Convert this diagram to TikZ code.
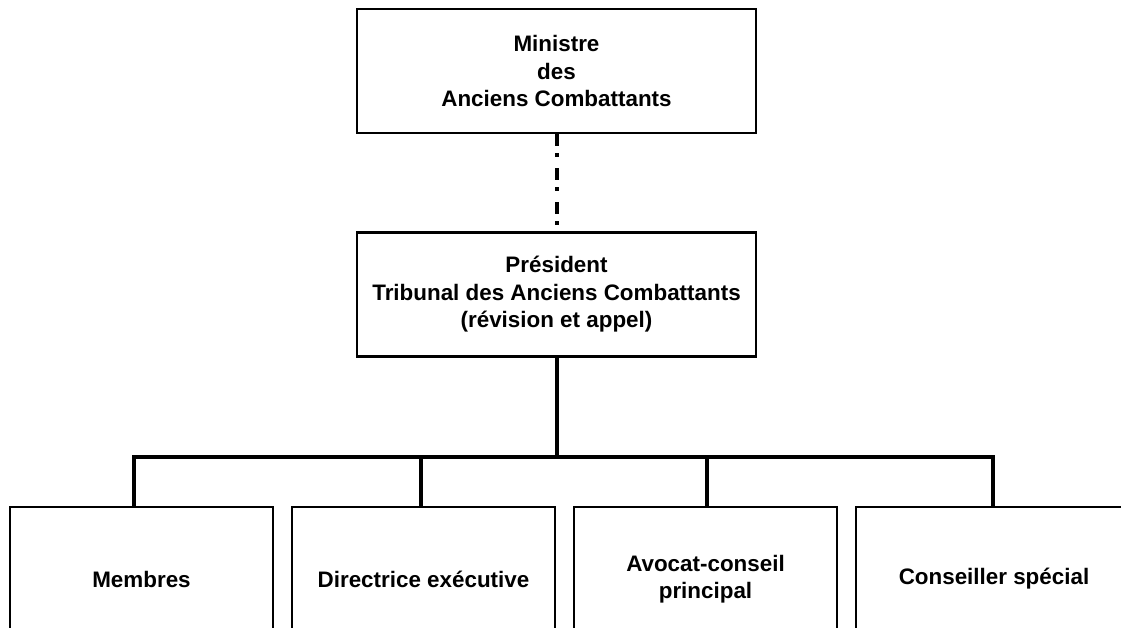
\documentclass[tikz,border=0pt]{standalone}
\usepackage{fontspec}
\setmainfont{Liberation Sans}
\begin{document}
\begin{tikzpicture}[
    x=1pt, y=-1pt,
    every node/.style={draw, rectangle, line width=2.5pt, align=center, font=\bfseries\fontsize{22.4}{27.5}\selectfont},
    headbox/.style={minimum width=399pt, minimum height=124pt},
    unitbox/.style={minimum width=263pt, minimum height=144pt},
    link/.style={line width=4pt},
    liaison/.style={line width=4pt, dash pattern=on 12pt off 7pt on 4pt off 11pt}
    ]

    \clip (0,0) rectangle (1121,628);
    \fill[white] (0,0) rectangle (1121,628);

    \node[headbox] (ministre) at (556.5,71) {Ministre\\des\\Anciens Combattants};
    \node[headbox] (president) at (556.5,294.5) {Président\\Tribunal des Anciens Combattants\\(révision et appel)};

    \node[unitbox] (membres) at (141.5,579) {Membres};
    \node[unitbox] (directrice) at (423.5,579) {Directrice exécutive};
    \node[unitbox] (avocat) at (705.5,579) {Avocat-conseil\\principal};
    \node[unitbox, minimum width=276pt] (conseiller) at (994,579) {Conseiller spécial};

    \coordinate (d1) at (134,457);
    \coordinate (d2) at (421,457);
    \coordinate (d3) at (707,457);
    \coordinate (d4) at (993,457);

    \draw[liaison] (ministre.south) -- (president.north);
    \draw[link] (president.south) -- (president.south |- d1);
    \draw[link] (d1 |- membres.north) -- (d1) -- (d4) -- (d4 |- conseiller.north);
    \draw[link] (d2) -- (d2 |- directrice.north);
    \draw[link] (d3) -- (d3 |- avocat.north);

  \end{tikzpicture}
\end{document}
